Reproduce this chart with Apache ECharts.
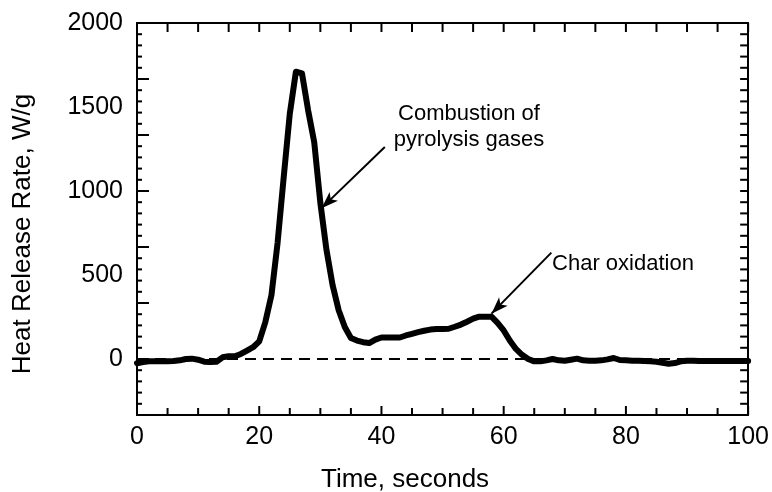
<!DOCTYPE html>
<html>
<head>
<meta charset="utf-8">
<script src="https://cdn.jsdelivr.net/npm/echarts@6/dist/echarts.min.js"></script>
<style>
  html, body { margin: 0; padding: 0; background: #fff; }
  #chart { width: 772px; height: 492px; }
</style>
</head>
<body>
<div id="chart"></div>
<script>
// ---- data ----
const timeSeconds = [];
for (let t = 0; t <= 100; t++) timeSeconds.push(t);
const heatReleaseRate = [
  -25, -18, -14, -14, -14, -14, -12, -8, 0, 2,
  -4, -16, -18, -16, 10, 16, 16, 30, 50, 70,
  105, 220, 380, 690, 1080, 1460, 1710, 1700, 1480, 1290,
  930, 650, 440, 290, 190, 125, 110, 100, 95, 115,
  128, 128, 128, 128, 140, 150, 160, 168, 175, 178,
  178, 180, 192, 205, 222, 240, 252, 252, 252, 215,
  170, 110, 60, 25, 0, -14, -14, -8, 0, -8,
  -10, -4, 2, -8, -10, -10, -8, -2, 6, -6,
  -8, -10, -10, -12, -14, -16, -22, -28, -24, -14,
  -10, -10, -12, -12, -12, -12, -12, -12, -12, -12,
  -12
];
const xTickLabels = [0, 20, 40, 60, 80, 100];
const yTickLabels = [0, 500, 1000, 1500, 2000];
const arrowFrom = [[40.55, 1262], [67.8, 633]];
const arrowTo = [[30.2, 898], [58.0, 270]];
const annotationTexts = ['Combustion of\npyrolysis gases', 'Char oxidation'];
const zeroLine = [[0, 0], [100, 0]];

const yMin = -1000 / 3, yMax = 2000;
// tick-mark positions (axis values) on each side of the frame
const range = (a, b, step) => { const r = []; for (let i = 0; a + i * step <= b + 1e-6; i++) r.push(a + i * step); return r; };
const bottomMajorTicks = range(0, 100, 20);
const bottomMinorTicks = range(0, 100, 5).filter(v => v % 20 !== 0);
const topTicks = range(0, 100, 5);
const leftMajorTicks = range(yMin, yMax, 1000 / 3);
const leftMinorTicks = range(yMin, yMax, 200 / 3);
const rightTicks = range(yMin, yMax, 200 / 3);

const FONT = "'Liberation Sans', Arial, Helvetica, sans-serif";

// side codes: 0 bottom, 1 top, 2 left, 3 right ; [value, side, length px]
const tickMarks = [].concat(
  bottomMajorTicks.map(v => [v, 0, 9]),
  bottomMinorTicks.map(v => [v, 0, 7]),
  topTicks.map(v => [v, 1, 9]),
  leftMajorTicks.map(v => [v, 2, 12]),
  leftMinorTicks.map(v => [v, 2, 5]),
  rightTicks.map(v => [v, 3, 8])
);

const chart = echarts.init(document.getElementById('chart'), null, { renderer: 'canvas' });

const lineOn = { show: true, onZero: false, lineStyle: { color: '#000', width: 2 } };

const option = {
  animation: false,
  backgroundColor: '#fff',
  grid: { left: 137, right: 23, top: 23, bottom: 77, containLabel: false },
  xAxis: [
    {
      type: 'value', position: 'bottom', min: 0, max: 100, interval: 20,
      axisLine: lineOn, axisTick: { show: false }, splitLine: { show: false },
      axisLabel: {
        color: '#000', fontSize: 25, fontFamily: FONT, margin: 10,
        formatter: v => (xTickLabels.includes(Math.round(v)) ? String(Math.round(v)) : '')
      }
    },
    {
      type: 'value', position: 'top', min: 0, max: 100, interval: 20,
      axisLine: lineOn, axisTick: { show: false }, splitLine: { show: false },
      axisLabel: { show: false }
    }
  ],
  yAxis: [
    {
      type: 'value', position: 'left', min: yMin, max: yMax, interval: 500 / 3,
      axisLine: lineOn, axisTick: { show: false }, splitLine: { show: false },
      axisLabel: {
        color: '#000', fontSize: 25, fontFamily: FONT, margin: 14,
        formatter: v => {
          const r = Math.round(v);
          return yTickLabels.includes(r) ? String(r) : '';
        }
      }
    },
    {
      type: 'value', position: 'right', min: yMin, max: yMax, interval: 1000 / 3,
      axisLine: lineOn, axisTick: { show: false }, splitLine: { show: false },
      axisLabel: { show: false }
    }
  ],
  graphic: [
    {
      type: 'text', left: 321, top: 467,
      style: { text: 'Time, seconds', fill: '#000', fontSize: 26, fontFamily: FONT }
    },
    {
      type: 'text', x: 10, y: 234, rotation: Math.PI / 2,
      style: {
        text: 'Heat Release Rate, W/g', fill: '#000', fontSize: 26, fontFamily: FONT,
        align: 'center', verticalAlign: 'top'
      }
    },
    {
      type: 'text', x: 469, y: 127,
      style: {
        text: annotationTexts[0], fill: '#000', fontSize: 22, fontFamily: FONT,
        align: 'center', verticalAlign: 'middle', lineHeight: 26
      }
    },
    {
      type: 'text', x: 623, y: 264,
      style: {
        text: annotationTexts[1], fill: '#000', fontSize: 22, fontFamily: FONT,
        align: 'center', verticalAlign: 'middle'
      }
    }
  ],
  series: [
    {
      type: 'line', xAxisIndex: 0, yAxisIndex: 0, data: zeroLine,
      symbol: 'none', silent: true, z: 1,
      lineStyle: { color: '#000', width: 2, type: [11, 7] }
    },
    {
      type: 'line', xAxisIndex: 0, yAxisIndex: 0,
      data: timeSeconds.map((t, i) => [t, heatReleaseRate[i]]),
      symbol: 'none', z: 3,
      lineStyle: { color: '#000', width: 6, join: 'round', cap: 'round' },
      markLine: {
        silent: true, animation: false,
        lineStyle: { color: '#000', width: 2, type: 'solid' },
        label: { show: false },
        data: arrowFrom.map((f, i) => [
          { coord: f, symbol: 'none' },
          { coord: arrowTo[i], symbol: 'arrow', symbolSize: [9, 17] }
        ])
      }
    },
    {
      type: 'custom', xAxisIndex: 0, yAxisIndex: 0, silent: true, z: 5, clip: false,
      data: tickMarks,
      encode: { x: 0, y: 0 },
      renderItem: (params, api) => {
        const v = api.value(0), side = api.value(1), len = api.value(2);
        const cs = params.coordSys;
        let x1, y1, x2, y2;
        if (side === 0 || side === 1) {
          const px = api.coord([v, 0])[0];
          x1 = x2 = px;
          y1 = side === 0 ? cs.y + cs.height : cs.y;
          y2 = side === 0 ? y1 - len : y1 + len;
        } else {
          const py = api.coord([0, v])[1];
          y1 = y2 = py;
          x1 = side === 2 ? cs.x : cs.x + cs.width;
          x2 = side === 2 ? x1 + len : x1 - len;
        }
        return {
          type: 'line',
          shape: { x1, y1, x2, y2 },
          style: { stroke: '#000', lineWidth: 2 }
        };
      }
    }
  ]
};
chart.setOption(option);
</script>
</body>
</html>
